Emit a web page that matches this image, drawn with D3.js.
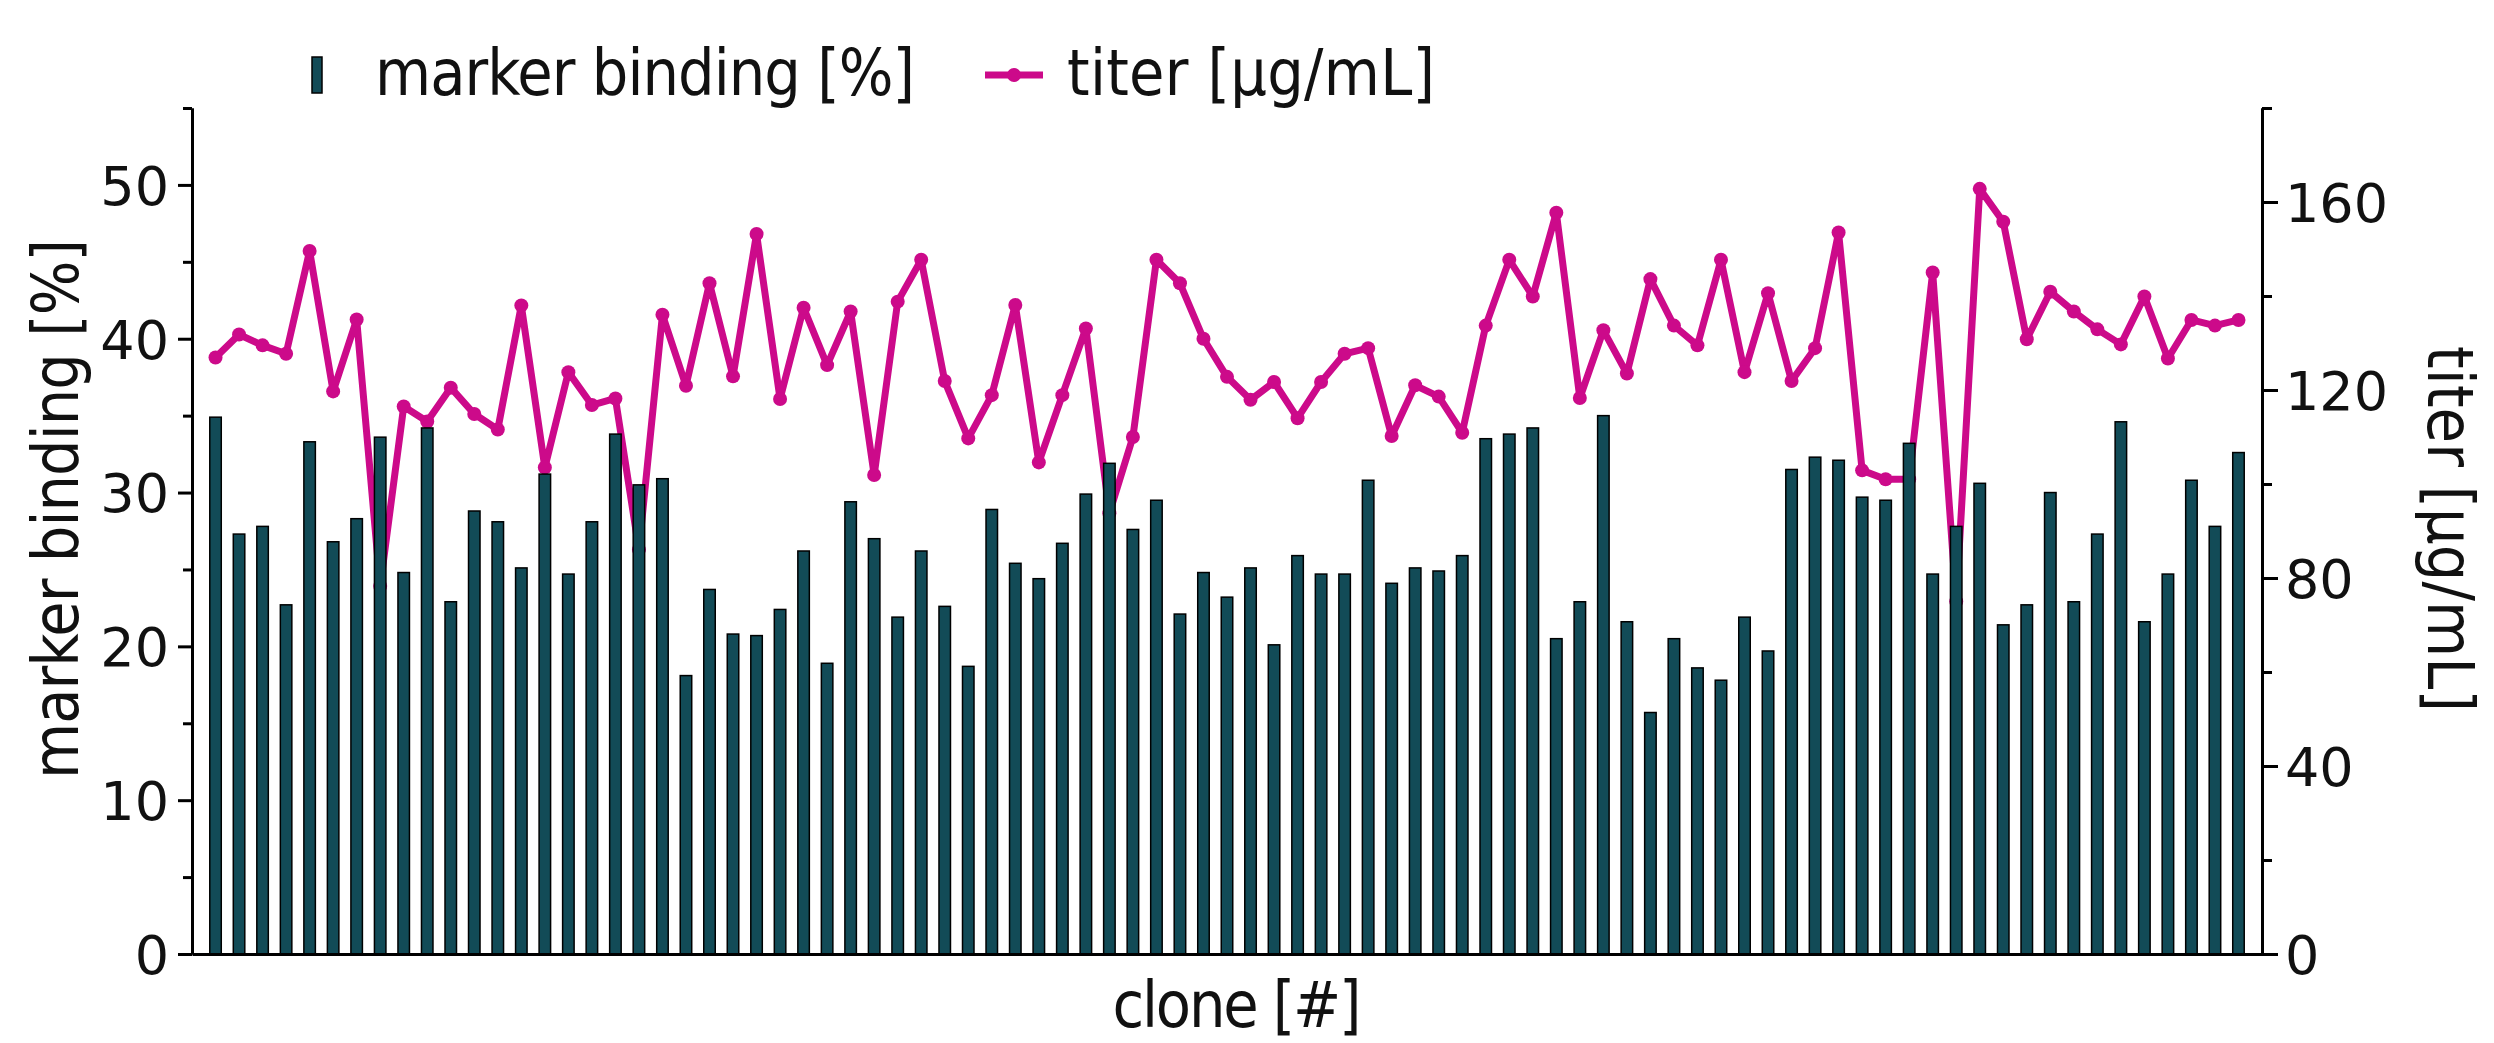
<!DOCTYPE html>
<html><head><meta charset="utf-8">
<script src="https://cdn.jsdelivr.net/npm/d3@7"></script>
<style>html,body{margin:0;padding:0;background:#fff;} svg{display:block;}</style>
</head><body><svg id="chart" width="2494" height="1043"></svg>
<script>
const clones = d3.range(1, 88);
const markerBinding = [
  34.9, 27.3, 27.8, 22.7, 33.3, 26.8, 28.3, 33.6, 24.8, 34.2,
  22.9, 28.8, 28.1, 25.1, 31.2, 24.7, 28.1, 33.8, 30.5, 30.9,
  18.1, 23.7, 20.8, 20.7, 22.4, 26.2, 18.9, 29.4, 27.0, 21.9,
  26.2, 22.6, 18.7, 28.9, 25.4, 24.4, 26.7, 29.9, 31.9, 27.6,
  29.5, 22.1, 24.8, 23.2, 25.1, 20.1, 25.9, 24.7, 24.7, 30.8,
  24.1, 25.1, 24.9, 25.9, 33.5, 33.8, 34.2, 20.5, 22.9, 35.0,
  21.6, 15.7, 20.5, 18.6, 17.8, 21.9, 19.7, 31.5, 32.3, 32.1,
  29.7, 29.5, 33.2, 24.7, 27.8, 30.6, 21.4, 22.7, 30.0, 22.9,
  27.3, 34.6, 21.6, 24.7, 30.8, 27.8, 32.6
];
const titer = [
  126.9, 131.8, 129.5, 127.7, 149.6, 119.7, 135.0, 78.3, 116.5, 113.3,
  120.5, 114.9, 111.6, 138.0, 103.5, 123.8, 116.8, 118.2, 86.0, 136.0,
  120.9, 142.7, 122.9, 153.2, 118.1, 137.5, 125.3, 136.7, 101.9, 138.8,
  147.7, 121.9, 109.7, 118.9, 138.1, 104.6, 118.9, 133.1, 93.8, 110.0,
  147.7, 142.7, 130.9, 122.8, 117.9, 121.7, 114.0, 121.7, 127.7, 128.9,
  110.2, 121.0, 118.6, 110.9, 133.7, 147.7, 139.9, 157.7, 118.3, 132.7,
  123.5, 143.6, 133.7, 129.5, 147.7, 123.8, 140.6, 121.9, 128.9, 153.5,
  102.9, 101.0, 101.0, 145.0, 75.0, 162.8, 155.8, 130.8, 140.9, 136.7,
  132.9, 129.7, 139.9, 126.7, 134.9, 133.7, 134.9
];
const leftTicks = [0, 10, 20, 30, 40, 50];
const leftMinorTicks = [5, 15, 25, 35, 45, 55];
const rightTicks = [0, 40, 80, 120, 160];
const rightMinorTicks = [20, 60, 100, 140, 180];
const seriesNames = ["marker binding [%]", "titer [µg/mL]"];
const axisTitles = {left: "marker binding [%]", right: "titer [µg/mL]", bottom: "clone [#]"};

const BAR_COLOR = "#124b57";
const LINE_COLOR = "#cc0a8a";
const TICK_FONT = "'DejaVu Sans', sans-serif";
const LABEL_FONT = "'Liberation Sans Narrow', 'DejaVu Sans Condensed', 'Liberation Sans', sans-serif";

const svg = d3.select("#chart");
const x = d3.scaleLinear().domain([0, 88]).range([192, 2262]);
const yL = d3.scaleLinear().domain([0, 55]).range([954, 108]);
const yR = d3.scaleLinear().domain([0, 180]).range([954, 108]);

const data = clones.map((c, i) => ({c, b: markerBinding[i], t: titer[i]}));

// line (drawn under bars, as in reference)
const line = d3.line().x(d => x(d.c)).y(d => yR(d.t));
svg.append("path").datum(data)
  .attr("d", line).attr("fill", "none")
  .attr("stroke", LINE_COLOR).attr("stroke-width", 7)
  .attr("stroke-linejoin", "round");
svg.append("g").selectAll("circle").data(data).join("circle")
  .attr("cx", d => x(d.c)).attr("cy", d => yR(d.t)).attr("r", 7)
  .attr("fill", LINE_COLOR);

// bars
const bw = 11.5;
svg.append("g").selectAll("rect").data(data).join("rect")
  .attr("x", d => x(d.c) - bw / 2).attr("width", bw)
  .attr("y", d => yL(d.b)).attr("height", d => yL(0) - yL(d.b))
  .attr("fill", BAR_COLOR).attr("stroke", "#000").attr("stroke-width", 1.5);

function styleAxis(g) {
  g.select(".domain").attr("stroke", "#000").attr("stroke-width", 3);
  g.selectAll(".tick line").attr("stroke", "#000").attr("stroke-width", 3);
  g.selectAll("text").attr("font-family", TICK_FONT).attr("font-size", 54).attr("fill", "#111");
}

// left axis
const gL = svg.append("g").attr("transform", `translate(${x(0)},0)`)
  .call(d3.axisLeft(yL).tickValues(leftTicks).tickSize(14).tickSizeOuter(0).tickPadding(9));
styleAxis(gL);
gL.selectAll("text").attr("dy", "0.36em");
const gLm = svg.append("g").attr("transform", `translate(${x(0)},0)`)
  .call(d3.axisLeft(yL).tickValues(leftMinorTicks).tickSize(9).tickSizeOuter(0).tickFormat(""));
styleAxis(gLm);

// right axis
const gR = svg.append("g").attr("transform", `translate(${x(88)},0)`)
  .call(d3.axisRight(yR).tickValues(rightTicks).tickSize(16).tickSizeOuter(0).tickPadding(7));
styleAxis(gR);
gR.selectAll("text").attr("dy", "0.36em");
const gRm = svg.append("g").attr("transform", `translate(${x(88)},0)`)
  .call(d3.axisRight(yR).tickValues(rightMinorTicks).tickSize(10).tickSizeOuter(0).tickFormat(""));
styleAxis(gRm);

// bottom axis
const gB = svg.append("g").attr("transform", `translate(0,${yL(0)})`)
  .call(d3.axisBottom(x).tickValues([]).tickSizeOuter(0));
styleAxis(gB);

// axis titles
function label(txt, len) {
  return svg.append("text").text(txt)
    .attr("font-family", LABEL_FONT).attr("font-size", 64).attr("fill", "#111")
    .attr("textLength", len);
}
label(axisTitles.left, 540).attr("text-anchor", "middle")
  .attr("transform", "translate(78,509) rotate(-90)");
label(axisTitles.right, 366).attr("text-anchor", "middle")
  .attr("transform", "translate(2428,529) rotate(90)");
label(axisTitles.bottom, 249).attr("text-anchor", "middle")
  .attr("x", 1237).attr("y", 1027);

// legend
svg.append("rect").attr("x", 312).attr("y", 57).attr("width", 10).attr("height", 36)
  .attr("fill", BAR_COLOR).attr("stroke", "#000").attr("stroke-width", 1.5);
label(seriesNames[0], 540).attr("x", 375).attr("y", 95);
svg.append("line").attr("x1", 985).attr("x2", 1043).attr("y1", 75).attr("y2", 75)
  .attr("stroke", LINE_COLOR).attr("stroke-width", 7);
svg.append("circle").attr("cx", 1014).attr("cy", 75).attr("r", 7).attr("fill", LINE_COLOR);
label(seriesNames[1], 368).attr("x", 1067).attr("y", 95);
</script>
</body></html>
